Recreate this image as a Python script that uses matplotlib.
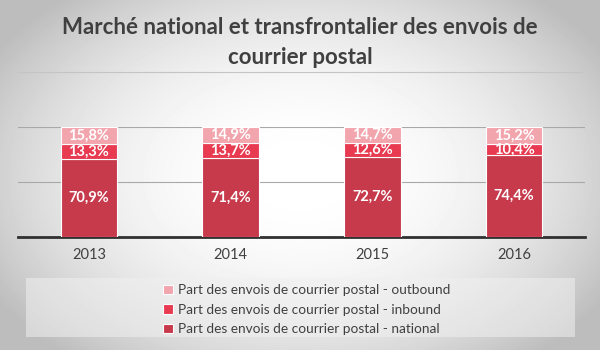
import numpy as np
import matplotlib
matplotlib.use("Agg")
import matplotlib.pyplot as plt
from matplotlib.patches import Rectangle
from matplotlib.lines import Line2D

years = ["2013", "2014", "2015", "2016"]
national = [70.9, 71.4, 72.7, 74.4]
inbound = [13.3, 13.7, 12.6, 10.4]
outbound = [15.8, 14.9, 14.7, 15.2]
series_names = [
    "Part des envois de courrier postal - national",
    "Part des envois de courrier postal - inbound",
    "Part des envois de courrier postal - outbound",
]
title = "Marché national et transfrontalier des envois de\ncourrier postal"

c_nat = "#C63A4B"
c_in = "#E83A50"
c_out = "#F2A5AD"
txt = "#404040"
font = ["Lato", "DejaVu Sans"]

W, H = 600, 350
fig = plt.figure(figsize=(6, 3.5), dpi=100)

# gradient background
bg = fig.add_axes([0, 0, 1, 1], zorder=-10)
yy, xx = np.mgrid[0:H, 0:W]
r = np.sqrt(((xx - 300) / 330.0) ** 2 + ((yy - 175) / 220.0) ** 2)
v = np.clip(1.0 - 0.22 * r ** 2.2, 0.74, 1.0)
bg.imshow(v, cmap="gray", vmin=0, vmax=1, aspect="auto", extent=[0, 1, 0, 1], origin="upper")
bg.set_xlim(0, 1); bg.set_ylim(0, 1)
bg.axis("off")

# title + rule
l1, l2 = title.split("\n")
fig.text(0.5, 1 - 27 / H, l1, ha="center", va="center",
         fontsize=16, fontweight="bold", color=txt, family=font)
fig.text(0.5, 1 - 58 / H, l2, ha="center", va="center",
         fontsize=16, fontweight="bold", color=txt, family=font)
fig.add_artist(Line2D([18 / W, 582 / W], [1 - 72 / H, 1 - 72 / H], color="#c4c4c4", lw=0.8))

# legend box
fig.add_artist(Rectangle((26 / W, 1 - 337 / H), (575 - 26) / W, (337 - 278) / H,
                         transform=fig.transFigure, facecolor="#f0f0f0", edgecolor="none", alpha=0.55))

ax = fig.add_axes([18 / W, 1 - 237 / H, (585 - 18) / W, 110 / H])
ax.patch.set_alpha(0)
x = np.arange(len(years))
w = 0.4
b1 = ax.bar(x, national, w, color=c_nat, edgecolor="white", linewidth=0.8, zorder=3)
b2 = ax.bar(x, inbound, w, bottom=national, color=c_in, edgecolor="white", linewidth=0.8, zorder=3)
bot3 = [a + b for a, b in zip(national, inbound)]
b3 = ax.bar(x, outbound, w, bottom=bot3, color=c_out, edgecolor="white", linewidth=0.8, zorder=3)

def fmt(v):
    return f"{v:.1f}%".replace(".", ",")

for i in range(len(years)):
    ax.text(x[i], national[i] / 2, fmt(national[i]), ha="center", va="center",
            color="white", fontsize=10.5, fontweight="bold", family=font, zorder=4)
    ax.text(x[i], national[i] + inbound[i] / 2, fmt(inbound[i]), ha="center", va="center",
            color="white", fontsize=10.5, fontweight="bold", family=font, zorder=4)
    ax.text(x[i], bot3[i] + outbound[i] / 2, fmt(outbound[i]), ha="center", va="center",
            color="white", fontsize=10.5, fontweight="bold", family=font, zorder=4)

ax.set_xlim(-0.5, len(years) - 0.5)
ax.set_ylim(0, 100)
ax.set_yticks([0, 50, 100])
ax.yaxis.grid(True, color="#a8a8a8", lw=0.8, zorder=0)
ax.set_yticklabels([])
ax.tick_params(axis="y", length=0)
ax.set_xticks(x)
ax.set_xticklabels(years, fontsize=10.5, color=txt, family=font)
ax.tick_params(axis="x", length=0, pad=8)
for s in ["top", "right", "left"]:
    ax.spines[s].set_visible(False)
ax.spines["bottom"].set_color("#303030")
ax.spines["bottom"].set_linewidth(2)

leg = fig.legend([b3, b2, b1], [series_names[2], series_names[1], series_names[0]],
                 loc="upper left", bbox_to_anchor=(151 / W, 1 - 272 / H), frameon=False,
                 handlelength=0.7, handleheight=0.7, handletextpad=0.4, labelspacing=0.55,
                 prop={"family": font, "size": 9.8})
for t in leg.get_texts():
    t.set_color(txt)

fig.savefig("out.png", dpi=100)
